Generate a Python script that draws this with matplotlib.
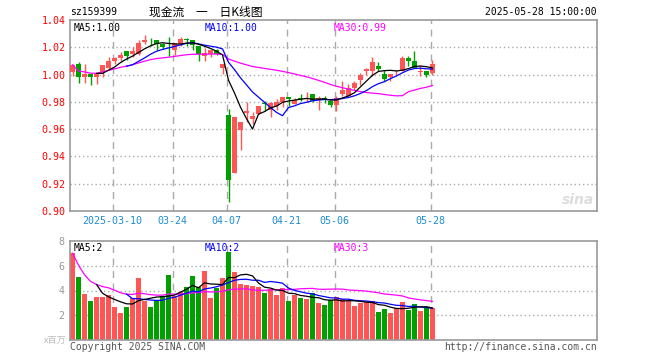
import numpy as np
import pandas as pd
import matplotlib
matplotlib.use("Agg")
import matplotlib.pyplot as plt

# --- data ---
opens = [1.0022, 1.0076, 0.9980, 1.0005, 0.9983, 1.0017, 1.0049, 1.0096, 1.0123, 1.0172,
         1.0152, 1.0152, 1.0238, 1.0262, 1.0253, 1.0221, 1.0211, 1.0177, 1.0226, 1.0258,
         1.0253, 1.0209, 1.0133, 1.0152, 1.0177, 1.0049, 0.9706, 0.9276, 0.9593, 0.9715,
         0.9674, 0.9711, 0.9793, 0.9743, 0.9773, 0.9798, 0.9835, 0.9785, 0.9825, 0.9822,
         0.9854, 0.9817, 0.9827, 0.9805, 0.9780, 0.9861, 0.9841, 0.9902, 0.9959, 1.0024,
         1.0024, 1.0066, 1.0007, 0.9983, 1.0017, 1.0025, 1.0118, 1.0099, 1.0020, 1.0025,
         1.0012]
closes = [1.0071, 0.9980, 1.0007, 0.9983, 1.0005, 1.0069, 1.0098, 1.0120, 1.0147, 1.0137,
          1.0174, 1.0231, 1.0253, 1.0258, 1.0221, 1.0204, 1.0206, 1.0231, 1.0258, 1.0253,
          1.0216, 1.0152, 1.0160, 1.0177, 1.0152, 1.0079, 0.9225, 0.9691, 0.9656, 0.9735,
          0.9696, 0.9773, 0.9783, 0.9793, 0.9798, 0.9835, 0.9822, 0.9817, 0.9822, 0.9830,
          0.9807, 0.9827, 0.9822, 0.9780, 0.9830, 0.9885, 0.9902, 0.9939, 0.9995, 1.0044,
          1.0093, 1.0044, 0.9968, 1.0007, 1.0020, 1.0123, 1.0101, 1.0047, 1.0022, 0.9995,
          1.0077]
highs = [1.0078, 1.0093, 1.0074, 1.0005, 1.0005, 1.0069, 1.0132, 1.0130, 1.0164, 1.0172,
         1.0201, 1.0250, 1.0290, 1.0265, 1.0253, 1.0233, 1.0277, 1.0231, 1.0275, 1.0267,
         1.0253, 1.0209, 1.0196, 1.0177, 1.0184, 1.0079, 0.9747, 0.9691, 0.9656, 0.9796,
         0.9723, 0.9773, 0.9805, 0.9798, 0.9822, 0.9835, 0.9835, 0.9830, 0.9859, 0.9874,
         0.9854, 0.9842, 0.9842, 0.9805, 0.9842, 0.9956, 0.9932, 0.9951, 1.0012, 1.0049,
         1.0127, 1.0090, 1.0037, 1.0007, 1.0032, 1.0134, 1.0134, 1.0173, 1.0069, 1.0025,
         1.0106]
lows = [0.9988, 0.9939, 0.9939, 0.9926, 0.9931, 0.9983, 1.0030, 1.0074, 1.0103, 1.0108,
        1.0128, 1.0140, 1.0226, 1.0210, 1.0182, 1.0190, 1.0133, 1.0147, 1.0213, 1.0213,
        1.0182, 1.0096, 1.0103, 1.0128, 1.0140, 1.0005, 0.9067, 0.9276, 0.9445, 0.9649,
        0.9637, 0.9711, 0.9731, 0.9686, 0.9743, 0.9763, 0.9768, 0.9785, 0.9805, 0.9800,
        0.9798, 0.9743, 0.9793, 0.9763, 0.9732, 0.9841, 0.9841, 0.9890, 0.9927, 1.0000,
        0.9988, 1.0024, 0.9951, 0.9951, 1.0000, 1.0025, 1.0066, 1.0047, 0.9990, 0.9983,
        0.9995]
volumes = [7.01, 5.07, 3.73, 3.15, 3.47, 3.47, 3.63, 2.67, 2.19, 2.67,
           3.39, 4.99, 3.15, 2.67, 3.15, 3.55, 5.23, 3.55, 3.87, 4.27,
           5.15, 4.27, 5.55, 3.39, 4.19, 4.99, 7.15, 5.47, 4.51, 4.43,
           4.35, 4.27, 3.79, 4.13, 3.63, 4.20, 3.15, 3.63, 3.39, 3.31,
           3.76, 2.99, 2.83, 3.20, 3.44, 3.28, 3.15, 2.75, 3.01, 3.09,
           3.15, 2.29, 2.51, 2.21, 2.59, 3.07, 2.45, 2.91, 2.37, 2.64,
           2.56]

date_labels = ['2025-03-10', '03-24', '04-07', '04-21', '05-06', '05-28']
date_index = [7, 17, 26, 36, 44, 60]
price_ticks = [0.90, 0.92, 0.94, 0.96, 0.98, 1.00, 1.02, 1.04]
vol_ticks = [2, 4, 6, 8]

RED = '#FF5555'
GREEN = '#00A000'
GRID = '#AAAAAA'
FRAME = '#999999'
MONO = 'DejaVu Sans Mono'
CJK = ['Noto Sans CJK SC', 'DejaVu Sans']

df = pd.DataFrame({'o': opens, 'c': closes, 'h': highs, 'l': lows, 'v': volumes})
x = np.arange(len(df))
up = df['c'] >= df['o']
cols = np.where(up, RED, GREEN)

ma5 = df['c'].rolling(5).mean()
ma10 = df['c'].rolling(10).mean()
ma30 = df['c'].rolling(30, min_periods=1).mean()
vma5 = df['v'].rolling(5).mean()
vma10 = df['v'].rolling(10).mean()
vma30 = df['v'].rolling(30, min_periods=1).mean()

W, H = 660, 360
fig = plt.figure(figsize=(W / 100, H / 100), dpi=100)


def fx(px):
    return px / W


def fy(py):
    return 1 - py / H


ax = fig.add_axes([fx(70), fy(211), fx(527), 191 / H])
axv = fig.add_axes([fx(70), fy(340), fx(527), 99 / H])

xlim = (-0.42, 87.42)

for a in (ax, axv):
    a.set_xlim(*xlim)
    for s in a.spines.values():
        s.set_color(FRAME)
        s.set_linewidth(1.2)
    a.set_xticks([])
    a.tick_params(length=0)
    for i in date_index:
        a.axvline(i - 0.3, color=GRID, lw=1.0, ls=(0, (5, 4)), zorder=0)

# price panel
ax.set_ylim(0.90, 1.04)
for t in price_ticks[1:-1]:
    ax.axhline(t, color=GRID, lw=1.0, ls=(0, (1, 2)), zorder=0)
ax.set_yticks(price_ticks)
ax.set_yticklabels([f'{t:.2f}' for t in price_ticks], color='red',
                   fontsize=7.2, family=MONO)
ax.tick_params(axis='y', pad=3)

ax.vlines(x, df['l'], df['h'], colors=cols, lw=1.0, zorder=2)
body_h = (df['c'] - df['o']).abs().clip(lower=0.0005)
body_b = np.minimum(df['o'], df['c'])
ax.bar(x, body_h, bottom=body_b, width=0.8, color=cols, lw=0, zorder=3)

ax.plot(x, ma30, color='#FF00FF', lw=0.9, zorder=4)
ax.plot(x, ma10, color='#0000FF', lw=0.9, zorder=4)
ax.plot(x, ma5, color='black', lw=0.9, zorder=4)

ax.text(0.006, 0.985, 'MA5:1.00', transform=ax.transAxes, color='black',
        fontsize=7, family=MONO, va='top')
ax.text(fx(205 - 70) / fx(527), 0.985, 'MA10:1.00', transform=ax.transAxes,
        color='#0000FF', fontsize=7, family=MONO, va='top')
ax.text(fx(334 - 70) / fx(527), 0.985, 'MA30:0.99', transform=ax.transAxes,
        color='#FF00FF', fontsize=7, family=MONO, va='top')
ax.text(0.995, 0.02, 'sina', transform=ax.transAxes, color='#DDDDDD',
        fontsize=10, fontweight='bold', style='italic', ha='right', va='bottom')

# volume panel
axv.set_ylim(0, 8)
for t in vol_ticks[:-1]:
    axv.axhline(t, color=GRID, lw=1.0, ls=(0, (1, 2)), zorder=0)
axv.set_yticks(vol_ticks)
axv.set_yticklabels([str(t) for t in vol_ticks], color='#999999',
                    fontsize=7.2, family=MONO)
axv.tick_params(axis='y', pad=4)
axv.bar(x, df['v'], width=0.8, color=cols, lw=0, zorder=2)
axv.plot(x, vma30, color='#FF00FF', lw=0.9, zorder=4)
axv.plot(x, vma10, color='#0000FF', lw=0.9, zorder=4)
axv.plot(x, vma5, color='black', lw=0.9, zorder=4)

axv.text(0.006, 0.975, 'MA5:2', transform=axv.transAxes, color='black',
         fontsize=7, family=MONO, va='top')
axv.text(fx(205 - 70) / fx(527), 0.975, 'MA10:2', transform=axv.transAxes,
         color='#0000FF', fontsize=7, family=MONO, va='top')
axv.text(fx(334 - 70) / fx(527), 0.975, 'MA30:3', transform=axv.transAxes,
         color='#FF00FF', fontsize=7, family=MONO, va='top')

# date labels between the panels
for lab, i in zip(date_labels, date_index):
    xp = ax.transData.transform((i - 0.3, 0))[0]
    fig.text(xp / fig.dpi / fig.get_figwidth(), fy(221), lab, color='#1E8CD2',
             fontsize=7.2, family=MONO, ha='center', va='center')

# header / footer
fig.text(fx(70), fy(12), 'sz159399', fontsize=7, family=MONO, va='center')
fig.text(fx(206), fy(12), '现金流\u3000一\u3000日K线图', fontsize=8.5,
         family=CJK, ha='center', va='center')
fig.text(fx(597), fy(12), '2025-05-28 15:00:00', fontsize=7, family=MONO,
         ha='right', va='center')
fig.text(fx(66), fy(340), 'x百万', fontsize=6.5, color='#BBBBBB',
         family=CJK, ha='right', va='center')
fig.text(fx(70), fy(347), 'Copyright 2025 SINA.COM', fontsize=7, color='#555555',
         family=MONO, va='center')
fig.text(fx(597), fy(347), 'http://finance.sina.com.cn', fontsize=7,
         color='#555555', family=MONO, ha='right', va='center')

fig.savefig('out.png', dpi=100, facecolor='white')
